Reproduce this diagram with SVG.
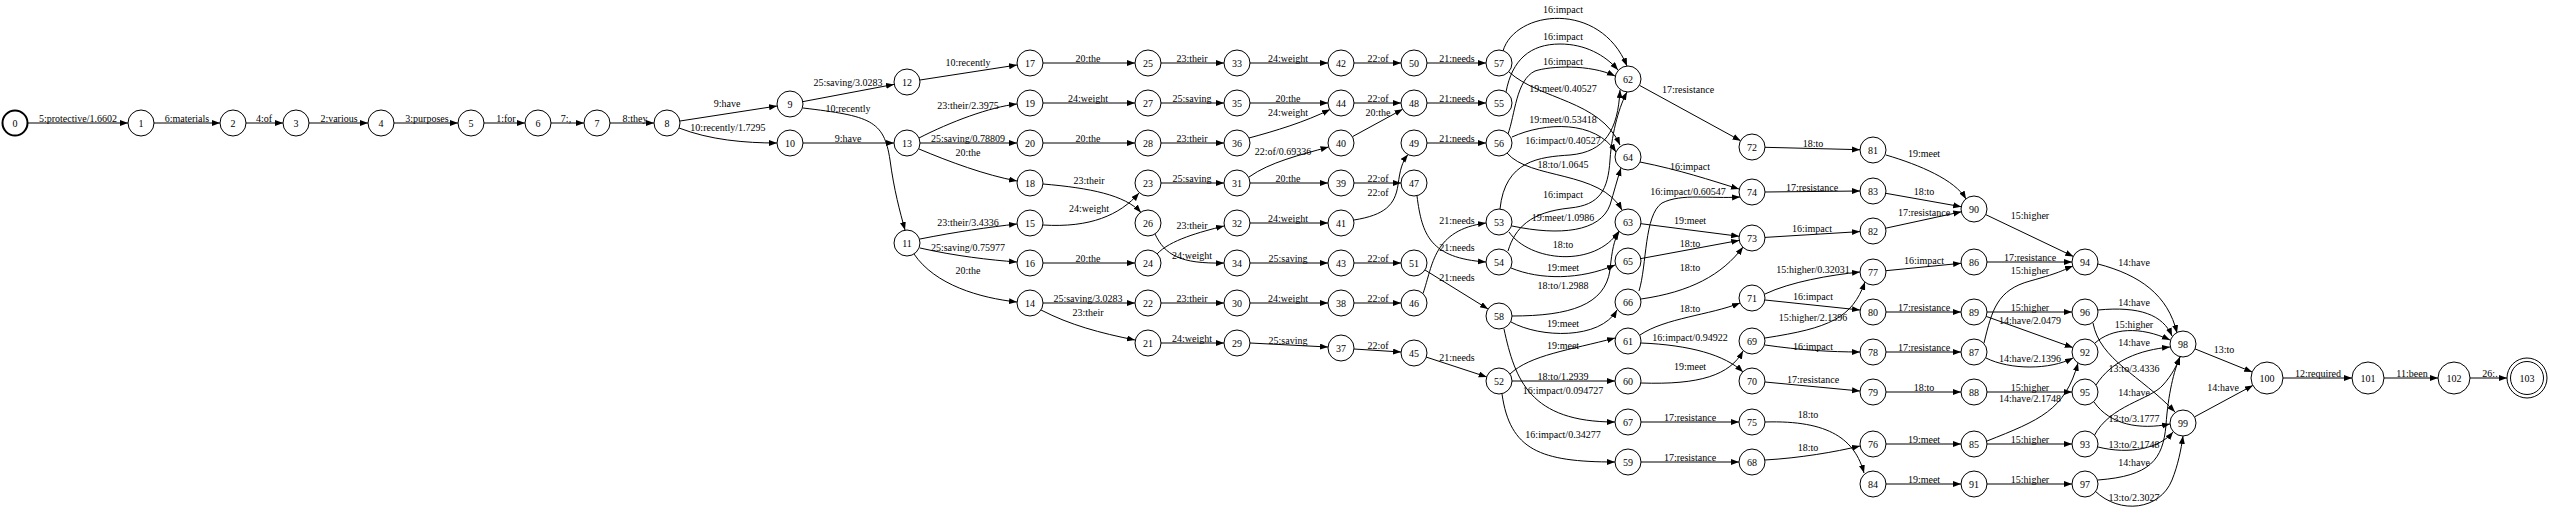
<svg xmlns="http://www.w3.org/2000/svg" width="2550" height="513" viewBox="0 0 2550 513">
<style>
text{font-family:"Liberation Serif","Times New Roman",serif;font-size:10px;text-anchor:middle;fill:#000}
.n circle{fill:#fff;stroke:#000;stroke-width:1}
.e path{fill:none;stroke:#000;stroke-width:1;marker-end:url(#a)}
</style>
<defs><marker id="a" markerWidth="10" markerHeight="8" refX="8" refY="3" orient="auto" markerUnits="userSpaceOnUse"><path d="M0,0 L8,3 L0,6 z" fill="#000"/></marker></defs>
<rect width="2550" height="513" fill="#fff"/>
<g id="edges" class="e">
<path d="M28,123 H128"/><text x="78" y="121.5">5:protective/1.6602</text>
<path d="M154,123 H220"/><text x="187" y="121.5">6:materials</text>
<path d="M246,123 H283"/><text x="264" y="121.5">4:of</text>
<path d="M309,123 H368"/><text x="339" y="121.5">2:various</text>
<path d="M394,123 H458"/><text x="427" y="121.5">3:purposes</text>
<path d="M484,123 H525"/><text x="506" y="121.5">1:for</text>
<path d="M551,123 H584"/><text x="566" y="121.5">7:,</text>
<path d="M610,123 H654"/><text x="635" y="121.5">8:they</text>
<path d="M680,121 L777,106"/><text x="727" y="106.5">9:have</text>
<path d="M679,128 C710,140 745,143 777,143"/><text x="728" y="130.5">10:recently/1.7295</text>
<path d="M803,101.6 L894,84.4"/><text x="848" y="85.5">25:saving/3.0283</text>
<path d="M803,108 C870,116 884,120 890,160 C894,190 900,212 905,230"/><text x="848" y="111.5">10:recently</text>
<path d="M803,143 H894"/><text x="848" y="141.5">9:have</text>
<path d="M920,80 L1017,65"/><text x="968" y="65.5">10:recently</text>
<path d="M919,138 C950,122 990,107 1017,104"/><text x="968" y="108.5">23:their/2.3975</text>
<path d="M920,143 H1017"/><text x="968" y="141.5">25:saving/0.78809</text>
<path d="M919,149 C950,162 985,175 1017,181"/><text x="968" y="155.5">20:the</text>
<path d="M920,239 C955,232 990,227 1017,224"/><text x="968" y="225.5">23:their/3.4336</text>
<path d="M920,248 C955,256 990,260 1017,262"/><text x="968" y="250.5">25:saving/0.75977</text>
<path d="M914,254 C935,285 980,298 1017,302"/><text x="968" y="273.5">20:the</text>
<path d="M1043,63 H1135"/><text x="1088" y="61.5">20:the</text>
<path d="M1043,103 H1135"/><text x="1088" y="101.5">24:weight</text>
<path d="M1043,143 H1135"/><text x="1088" y="141.5">20:the</text>
<path d="M1043,184 C1090,188 1125,195 1141,212.5"/><text x="1089" y="183.5">23:their</text>
<path d="M1043,225 C1090,228 1120,215 1139,193"/><text x="1089" y="211.5">24:weight</text>
<path d="M1043,263 H1135"/><text x="1088" y="261.5">20:the</text>
<path d="M1043,303 H1135"/><text x="1088" y="301.5">25:saving/3.0283</text>
<path d="M1041,310 C1070,325 1100,333 1135,340"/><text x="1088" y="315.5">23:their</text>
<path d="M1161,63 H1224"/><text x="1192" y="61.5">23:their</text>
<path d="M1161,103 H1224"/><text x="1192" y="101.5">25:saving</text>
<path d="M1161,143 H1224"/><text x="1192" y="141.5">23:their</text>
<path d="M1161,183 H1224"/><text x="1192" y="181.5">25:saving</text>
<path d="M1157,254 C1170,240 1200,232 1224,226"/><text x="1192" y="228.5">23:their</text>
<path d="M1155,234 C1165,255 1180,264 1224,263"/><text x="1192" y="258.5">24:weight</text>
<path d="M1161,303 H1224"/><text x="1192" y="301.5">23:their</text>
<path d="M1161,343 H1224"/><text x="1192" y="341.5">24:weight</text>
<path d="M1250,63 H1328"/><text x="1288" y="61.5">24:weight</text>
<path d="M1250,103 H1328"/><text x="1288" y="101.5">20:the</text>
<path d="M1249,138 C1275,131 1305,122 1330,109.5"/><text x="1288" y="115.5">24:weight</text>
<path d="M1249,177 C1270,162 1300,155 1328.5,147"/><text x="1283" y="154.5">22:of/0.69336</text>
<path d="M1250,183 H1328"/><text x="1288" y="181.5">20:the</text>
<path d="M1250,223 H1328"/><text x="1288" y="221.5">24:weight</text>
<path d="M1250,263 H1328"/><text x="1288" y="261.5">25:saving</text>
<path d="M1250,303 H1328"/><text x="1288" y="301.5">24:weight</text>
<path d="M1250,343 L1328,347"/><text x="1288" y="343.5">25:saving</text>
<path d="M1354,63 H1401"/><text x="1378" y="61.5">22:of</text>
<path d="M1354,103 H1401"/><text x="1378" y="101.5">22:of</text>
<path d="M1352.4,136.7 L1402.6,109.3"/><text x="1378" y="115.5">20:the</text>
<path d="M1354,183 H1401"/><text x="1378" y="181.5">22:of</text>
<path d="M1354,220 C1385,215 1395,205 1398,185 C1400,170 1402,162 1408,154.5"/><text x="1378" y="195.5">22:of</text>
<path d="M1354,263 H1401"/><text x="1378" y="261.5">22:of</text>
<path d="M1354,303 H1401"/><text x="1378" y="301.5">22:of</text>
<path d="M1354,349 L1401,352"/><text x="1378" y="348.5">22:of</text>
<path d="M1427,63 H1486"/><text x="1457" y="61.5">21:needs</text>
<path d="M1427,103 H1486"/><text x="1457" y="101.5">21:needs</text>
<path d="M1427,143 H1486"/><text x="1457" y="141.5">21:needs</text>
<path d="M1423,293.5 C1433,265 1433,230 1486,223"/><text x="1457" y="223.5">21:needs</text>
<path d="M1417,196 C1422,235 1430,258 1486,262"/><text x="1457" y="250.5">21:needs</text>
<path d="M1425,270 L1488,309"/><text x="1457" y="280.5">21:needs</text>
<path d="M1426,357 L1486.7,376.9"/><text x="1457" y="360.5">21:needs</text>
<path d="M1503,51 C1515,10 1600,0 1627,66"/><text x="1563" y="12.5">16:impact</text>
<path d="M1506,92 C1512,60 1530,44 1560,44 C1585,44 1605,55 1618,70"/><text x="1563" y="39.5">16:impact</text>
<path d="M1508,134 C1515,115 1516,80 1535,71 C1550,66 1590,64 1615,76"/><text x="1563" y="65">16:impact</text>
<path d="M1509,72 C1540,100 1600,100 1620,145"/><text x="1563" y="91.5">19:meet/0.40527</text>
<path d="M1512,137 C1545,122 1595,120 1616,152"/><text x="1563" y="122.5">19:meet/0.53418</text>
<path d="M1500,209 C1505,160 1540,157 1570,155 C1605,152 1618,130 1620,90"/><text x="1563" y="143.5">16:impact/0.40527</text>
<path d="M1507,153 C1530,180 1600,170 1622,210"/><text x="1563" y="167.5">18:to/1.0645</text>
<path d="M1508,251 C1515,228 1530,212 1570,208 C1600,205 1608,190 1610,160 C1612,130 1620,105 1627,92"/><text x="1563" y="197.5">16:impact</text>
<path d="M1512,226 C1560,236 1600,232 1610,205 C1614,192 1617,180 1621,168"/><text x="1563" y="220.5">19:meet/1.0986</text>
<path d="M1509,232 C1530,262 1595,268 1619,231"/><text x="1563" y="247.5">18:to</text>
<path d="M1511,268 C1540,280 1580,280 1615,265"/><text x="1563" y="270.5">19:meet</text>
<path d="M1512,316 C1570,316 1605,305 1610,270 C1612,250 1614,240 1619,232"/><text x="1563" y="288.5">18:to/1.2988</text>
<path d="M1511,322 C1540,338 1600,340 1617,310"/><text x="1563" y="326.5">19:meet</text>
<path d="M1510,374 C1530,355 1570,350 1615,338"/><text x="1563" y="348.5">19:meet</text>
<path d="M1512,381 H1615"/><text x="1563" y="379.5">18:to/1.2939</text>
<path d="M1504,329 C1515,380 1530,422 1615,422"/><text x="1563" y="393.5">16:impact/0.094727</text>
<path d="M1502,394 C1510,450 1540,462 1615,462"/><text x="1563" y="437.5">16:impact/0.34277</text>
<path d="M1639.4,85.3 L1740.6,140.7"/><text x="1688" y="92.5">17:resistance</text>
<path d="M1640,162 C1680,170 1710,180 1739,189"/><text x="1690" y="169.5">16:impact</text>
<path d="M1639,291 C1647,265 1644,215 1662,203 C1682,193 1710,199 1740,197"/><text x="1688" y="195">16:impact/0.60547</text>
<path d="M1640.9,223.7 L1739.1,236.3"/><text x="1690" y="223.5">19:meet</text>
<path d="M1640.8,258.6 L1739.2,240.4"/><text x="1690" y="246.5">18:to</text>
<path d="M1641,299 C1690,292 1722,275 1743,247"/><text x="1690" y="270.5">18:to</text>
<path d="M1640,335 C1665,318 1710,315 1740,303"/><text x="1690" y="311.5">18:to</text>
<path d="M1641,343 C1690,345 1725,355 1743,372"/><text x="1690" y="340.5">16:impact/0.94922</text>
<path d="M1641,383 C1700,385 1730,375 1743,351"/><text x="1690" y="369.5">19:meet</text>
<path d="M1641,422 H1739"/><text x="1690" y="420.5">17:resistance</text>
<path d="M1641,462 H1739"/><text x="1690" y="460.5">17:resistance</text>
<path d="M1765,147.3 L1860,149.7"/><text x="1813" y="146.5">18:to</text>
<path d="M1765,192 L1860,191"/><text x="1812" y="190.5">17:resistance</text>
<path d="M1765,237.4 L1860,231.6"/><text x="1812" y="231.5">16:impact</text>
<path d="M1765,294 C1790,282 1830,275 1860,272"/><text x="1813" y="272.5">15:higher/0.32031</text>
<path d="M1765,300 L1860,310"/><text x="1813" y="299.5">16:impact</text>
<path d="M1765,338 C1830,328 1852,318 1865,282"/><text x="1813" y="320.5">15:higher/2.1396</text>
<path d="M1765,345 C1800,350 1830,352 1860,352"/><text x="1813" y="349.5">16:impact</text>
<path d="M1765,382 L1860,391"/><text x="1813" y="382.5">17:resistance</text>
<path d="M1765,422 C1830,420 1855,440 1864,473"/><text x="1808" y="417.5">18:to</text>
<path d="M1765,460 C1800,458 1835,452 1860,446"/><text x="1808" y="450.5">18:to</text>
<path d="M1886,155 C1920,165 1955,180 1966,199"/><text x="1924" y="156.5">19:meet</text>
<path d="M1885.8,193.3 L1961.2,206.7"/><text x="1924" y="194.5">18:to</text>
<path d="M1885.7,228.2 L1961.3,211.8"/><text x="1924" y="215.5">17:resistance</text>
<path d="M1885.9,270.7 L1961.1,263.3"/><text x="1924" y="263.5">16:impact</text>
<path d="M1886,312 H1961"/><text x="1924" y="310.5">17:resistance</text>
<path d="M1886,352 H1961"/><text x="1924" y="350.5">17:resistance</text>
<path d="M1886,392 H1961"/><text x="1924" y="390.5">18:to</text>
<path d="M1886,444 H1961"/><text x="1924" y="442.5">19:meet</text>
<path d="M1886,484 H1961"/><text x="1924" y="482.5">19:meet</text>
<path d="M1985.7,214.6 L2073.3,256.4"/><text x="2030" y="218.5">15:higher</text>
<path d="M1987,262 H2072"/><text x="2030" y="260.5">17:resistance</text>
<path d="M1984,343 C1992,310 1997,290 2030,281 S2065,269 2073,266"/><text x="2030" y="273.5">15:higher</text>
<path d="M1987,312 H2072"/><text x="2030" y="310.5">15:higher</text>
<path d="M1986.2,316.4 L2072.8,347.6"/><text x="2030" y="323.5">14:have/2.0479</text>
<path d="M1986,358 C2010,370 2050,370 2073,358"/><text x="2030" y="361.5">14:have/2.1396</text>
<path d="M1987,392 H2072"/><text x="2030" y="390.5">15:higher</text>
<path d="M1987,441 C2040,420 2065,410 2078,363"/><text x="2030" y="401.5">14:have/2.1748</text>
<path d="M1987,444 H2072"/><text x="2030" y="442.5">15:higher</text>
<path d="M1987,484 H2072"/><text x="2030" y="482.5">15:higher</text>
<path d="M2098,264 C2140,275 2168,295 2177,333"/><text x="2134" y="265.5">14:have</text>
<path d="M2098,310 C2140,306 2163,315 2172,336"/><text x="2134" y="305.5">14:have</text>
<path d="M2095,343 C2112,328 2140,326 2170,340"/><text x="2134" y="327.5">15:higher</text>
<path d="M2096,385 C2112,360 2140,350 2170,347"/><text x="2134" y="345.5">14:have</text>
<path d="M2093,323 C2100,360 2140,375 2175,412"/><text x="2134" y="371.5">13:to/3.4336</text>
<path d="M2094,436 C2110,405 2150,400 2163,385 C2172,375 2177,365 2180,357"/><text x="2134" y="395.5">14:have</text>
<path d="M2094,402 C2110,425 2140,430 2170,424"/><text x="2134" y="421.5">13:to/3.1777</text>
<path d="M2098,447 C2130,455 2160,448 2173,432"/><text x="2134" y="447.5">13:to/2.1748</text>
<path d="M2098,480 C2150,476 2163,460 2166,425 C2168,395 2174,370 2180,357"/><text x="2134" y="465.5">14:have</text>
<path d="M2095,491 C2120,515 2160,510 2172,480 C2178,465 2181,450 2183,436"/><text x="2134" y="500.5">13:to/2.3027</text>
<path d="M2195,348.9 L2252.2,372"/><text x="2224" y="352.5">13:to</text>
<path d="M2194.5,416.9 L2252.9,385.4"/><text x="2223" y="390.5">14:have</text>
<path d="M2283,378 H2352"/><text x="2318" y="376.5">12:required</text>
<path d="M2384,378 H2438"/><text x="2412" y="376.5">11:been</text>
<path d="M2470,378 H2507"/><text x="2490" y="376.5">26:.</text>
</g>
<g id="nodes" class="n">
<g id="n0"><circle cx="15" cy="123" r="12.5" style="stroke-width:2"/><text x="15" y="126.5">0</text></g>
<g id="n1"><circle cx="141" cy="123" r="13"/><text x="141" y="126.5">1</text></g>
<g id="n2"><circle cx="233" cy="123" r="13"/><text x="233" y="126.5">2</text></g>
<g id="n3"><circle cx="296" cy="123" r="13"/><text x="296" y="126.5">3</text></g>
<g id="n4"><circle cx="381" cy="123" r="13"/><text x="381" y="126.5">4</text></g>
<g id="n5"><circle cx="471" cy="123" r="13"/><text x="471" y="126.5">5</text></g>
<g id="n6"><circle cx="538" cy="123" r="13"/><text x="538" y="126.5">6</text></g>
<g id="n7"><circle cx="597" cy="123" r="13"/><text x="597" y="126.5">7</text></g>
<g id="n8"><circle cx="667" cy="123" r="13"/><text x="667" y="126.5">8</text></g>
<g id="n9"><circle cx="790" cy="104" r="13"/><text x="790" y="107.5">9</text></g>
<g id="n10"><circle cx="790" cy="143" r="13"/><text x="790" y="146.5">10</text></g>
<g id="n12"><circle cx="907" cy="82" r="13"/><text x="907" y="85.5">12</text></g>
<g id="n13"><circle cx="907" cy="143" r="13"/><text x="907" y="146.5">13</text></g>
<g id="n11"><circle cx="907" cy="243" r="13"/><text x="907" y="246.5">11</text></g>
<g id="n17"><circle cx="1030" cy="63" r="13"/><text x="1030" y="66.5">17</text></g>
<g id="n19"><circle cx="1030" cy="103" r="13"/><text x="1030" y="106.5">19</text></g>
<g id="n20"><circle cx="1030" cy="143" r="13"/><text x="1030" y="146.5">20</text></g>
<g id="n18"><circle cx="1030" cy="183" r="13"/><text x="1030" y="186.5">18</text></g>
<g id="n15"><circle cx="1030" cy="223" r="13"/><text x="1030" y="226.5">15</text></g>
<g id="n16"><circle cx="1030" cy="263" r="13"/><text x="1030" y="266.5">16</text></g>
<g id="n14"><circle cx="1030" cy="303" r="13"/><text x="1030" y="306.5">14</text></g>
<g id="n25"><circle cx="1148" cy="63" r="13"/><text x="1148" y="66.5">25</text></g>
<g id="n27"><circle cx="1148" cy="103" r="13"/><text x="1148" y="106.5">27</text></g>
<g id="n28"><circle cx="1148" cy="143" r="13"/><text x="1148" y="146.5">28</text></g>
<g id="n23"><circle cx="1148" cy="183" r="13"/><text x="1148" y="186.5">23</text></g>
<g id="n26"><circle cx="1148" cy="223" r="13"/><text x="1148" y="226.5">26</text></g>
<g id="n24"><circle cx="1148" cy="263" r="13"/><text x="1148" y="266.5">24</text></g>
<g id="n22"><circle cx="1148" cy="303" r="13"/><text x="1148" y="306.5">22</text></g>
<g id="n21"><circle cx="1148" cy="343" r="13"/><text x="1148" y="346.5">21</text></g>
<g id="n33"><circle cx="1237" cy="63" r="13"/><text x="1237" y="66.5">33</text></g>
<g id="n35"><circle cx="1237" cy="103" r="13"/><text x="1237" y="106.5">35</text></g>
<g id="n36"><circle cx="1237" cy="143" r="13"/><text x="1237" y="146.5">36</text></g>
<g id="n31"><circle cx="1237" cy="183" r="13"/><text x="1237" y="186.5">31</text></g>
<g id="n32"><circle cx="1237" cy="223" r="13"/><text x="1237" y="226.5">32</text></g>
<g id="n34"><circle cx="1237" cy="263" r="13"/><text x="1237" y="266.5">34</text></g>
<g id="n30"><circle cx="1237" cy="303" r="13"/><text x="1237" y="306.5">30</text></g>
<g id="n29"><circle cx="1237" cy="343" r="13"/><text x="1237" y="346.5">29</text></g>
<g id="n42"><circle cx="1341" cy="63" r="13"/><text x="1341" y="66.5">42</text></g>
<g id="n44"><circle cx="1341" cy="103" r="13"/><text x="1341" y="106.5">44</text></g>
<g id="n40"><circle cx="1341" cy="143" r="13"/><text x="1341" y="146.5">40</text></g>
<g id="n39"><circle cx="1341" cy="183" r="13"/><text x="1341" y="186.5">39</text></g>
<g id="n41"><circle cx="1341" cy="223" r="13"/><text x="1341" y="226.5">41</text></g>
<g id="n43"><circle cx="1341" cy="263" r="13"/><text x="1341" y="266.5">43</text></g>
<g id="n38"><circle cx="1341" cy="303" r="13"/><text x="1341" y="306.5">38</text></g>
<g id="n37"><circle cx="1341" cy="348" r="13"/><text x="1341" y="351.5">37</text></g>
<g id="n50"><circle cx="1414" cy="63" r="13"/><text x="1414" y="66.5">50</text></g>
<g id="n48"><circle cx="1414" cy="103" r="13"/><text x="1414" y="106.5">48</text></g>
<g id="n49"><circle cx="1414" cy="143" r="13"/><text x="1414" y="146.5">49</text></g>
<g id="n47"><circle cx="1414" cy="183" r="13"/><text x="1414" y="186.5">47</text></g>
<g id="n51"><circle cx="1414" cy="263" r="13"/><text x="1414" y="266.5">51</text></g>
<g id="n46"><circle cx="1414" cy="303" r="13"/><text x="1414" y="306.5">46</text></g>
<g id="n45"><circle cx="1414" cy="353" r="13"/><text x="1414" y="356.5">45</text></g>
<g id="n57"><circle cx="1499" cy="63" r="13"/><text x="1499" y="66.5">57</text></g>
<g id="n55"><circle cx="1499" cy="103" r="13"/><text x="1499" y="106.5">55</text></g>
<g id="n56"><circle cx="1499" cy="143" r="13"/><text x="1499" y="146.5">56</text></g>
<g id="n53"><circle cx="1499" cy="222" r="13"/><text x="1499" y="225.5">53</text></g>
<g id="n54"><circle cx="1499" cy="262" r="13"/><text x="1499" y="265.5">54</text></g>
<g id="n58"><circle cx="1499" cy="316" r="13"/><text x="1499" y="319.5">58</text></g>
<g id="n52"><circle cx="1499" cy="381" r="13"/><text x="1499" y="384.5">52</text></g>
<g id="n62"><circle cx="1628" cy="79" r="13"/><text x="1628" y="82.5">62</text></g>
<g id="n64"><circle cx="1628" cy="157" r="13"/><text x="1628" y="160.5">64</text></g>
<g id="n63"><circle cx="1628" cy="222" r="13"/><text x="1628" y="225.5">63</text></g>
<g id="n65"><circle cx="1628" cy="261" r="13"/><text x="1628" y="264.5">65</text></g>
<g id="n66"><circle cx="1628" cy="302" r="13"/><text x="1628" y="305.5">66</text></g>
<g id="n61"><circle cx="1628" cy="341" r="13"/><text x="1628" y="344.5">61</text></g>
<g id="n60"><circle cx="1628" cy="381" r="13"/><text x="1628" y="384.5">60</text></g>
<g id="n67"><circle cx="1628" cy="422" r="13"/><text x="1628" y="425.5">67</text></g>
<g id="n59"><circle cx="1628" cy="462" r="13"/><text x="1628" y="465.5">59</text></g>
<g id="n72"><circle cx="1752" cy="147" r="13"/><text x="1752" y="150.5">72</text></g>
<g id="n74"><circle cx="1752" cy="192" r="13"/><text x="1752" y="195.5">74</text></g>
<g id="n73"><circle cx="1752" cy="238" r="13"/><text x="1752" y="241.5">73</text></g>
<g id="n71"><circle cx="1752" cy="298" r="13"/><text x="1752" y="301.5">71</text></g>
<g id="n69"><circle cx="1752" cy="341" r="13"/><text x="1752" y="344.5">69</text></g>
<g id="n70"><circle cx="1752" cy="381" r="13"/><text x="1752" y="384.5">70</text></g>
<g id="n75"><circle cx="1752" cy="422" r="13"/><text x="1752" y="425.5">75</text></g>
<g id="n68"><circle cx="1752" cy="462" r="13"/><text x="1752" y="465.5">68</text></g>
<g id="n81"><circle cx="1873" cy="150" r="13"/><text x="1873" y="153.5">81</text></g>
<g id="n83"><circle cx="1873" cy="191" r="13"/><text x="1873" y="194.5">83</text></g>
<g id="n82"><circle cx="1873" cy="231" r="13"/><text x="1873" y="234.5">82</text></g>
<g id="n77"><circle cx="1873" cy="272" r="13"/><text x="1873" y="275.5">77</text></g>
<g id="n80"><circle cx="1873" cy="312" r="13"/><text x="1873" y="315.5">80</text></g>
<g id="n78"><circle cx="1873" cy="352" r="13"/><text x="1873" y="355.5">78</text></g>
<g id="n79"><circle cx="1873" cy="392" r="13"/><text x="1873" y="395.5">79</text></g>
<g id="n76"><circle cx="1873" cy="444" r="13"/><text x="1873" y="447.5">76</text></g>
<g id="n84"><circle cx="1873" cy="484" r="13"/><text x="1873" y="487.5">84</text></g>
<g id="n90"><circle cx="1974" cy="209" r="13"/><text x="1974" y="212.5">90</text></g>
<g id="n86"><circle cx="1974" cy="262" r="13"/><text x="1974" y="265.5">86</text></g>
<g id="n89"><circle cx="1974" cy="312" r="13"/><text x="1974" y="315.5">89</text></g>
<g id="n87"><circle cx="1974" cy="352" r="13"/><text x="1974" y="355.5">87</text></g>
<g id="n88"><circle cx="1974" cy="392" r="13"/><text x="1974" y="395.5">88</text></g>
<g id="n85"><circle cx="1974" cy="444" r="13"/><text x="1974" y="447.5">85</text></g>
<g id="n91"><circle cx="1974" cy="484" r="13"/><text x="1974" y="487.5">91</text></g>
<g id="n94"><circle cx="2085" cy="262" r="13"/><text x="2085" y="265.5">94</text></g>
<g id="n96"><circle cx="2085" cy="312" r="13"/><text x="2085" y="315.5">96</text></g>
<g id="n92"><circle cx="2085" cy="352" r="13"/><text x="2085" y="355.5">92</text></g>
<g id="n95"><circle cx="2085" cy="392" r="13"/><text x="2085" y="395.5">95</text></g>
<g id="n93"><circle cx="2085" cy="444" r="13"/><text x="2085" y="447.5">93</text></g>
<g id="n97"><circle cx="2085" cy="484" r="13"/><text x="2085" y="487.5">97</text></g>
<g id="n98"><circle cx="2183" cy="344" r="13"/><text x="2183" y="347.5">98</text></g>
<g id="n99"><circle cx="2183" cy="423" r="13"/><text x="2183" y="426.5">99</text></g>
<g id="n100"><circle cx="2267" cy="378" r="16"/><text x="2267" y="381.5">100</text></g>
<g id="n101"><circle cx="2368" cy="378" r="16"/><text x="2368" y="381.5">101</text></g>
<g id="n102"><circle cx="2454" cy="378" r="16"/><text x="2454" y="381.5">102</text></g>
<g id="n103"><circle cx="2527" cy="378" r="20"/><circle cx="2527" cy="378" r="16.5"/><text x="2527" y="381.5">103</text></g>
</g>
</svg>
